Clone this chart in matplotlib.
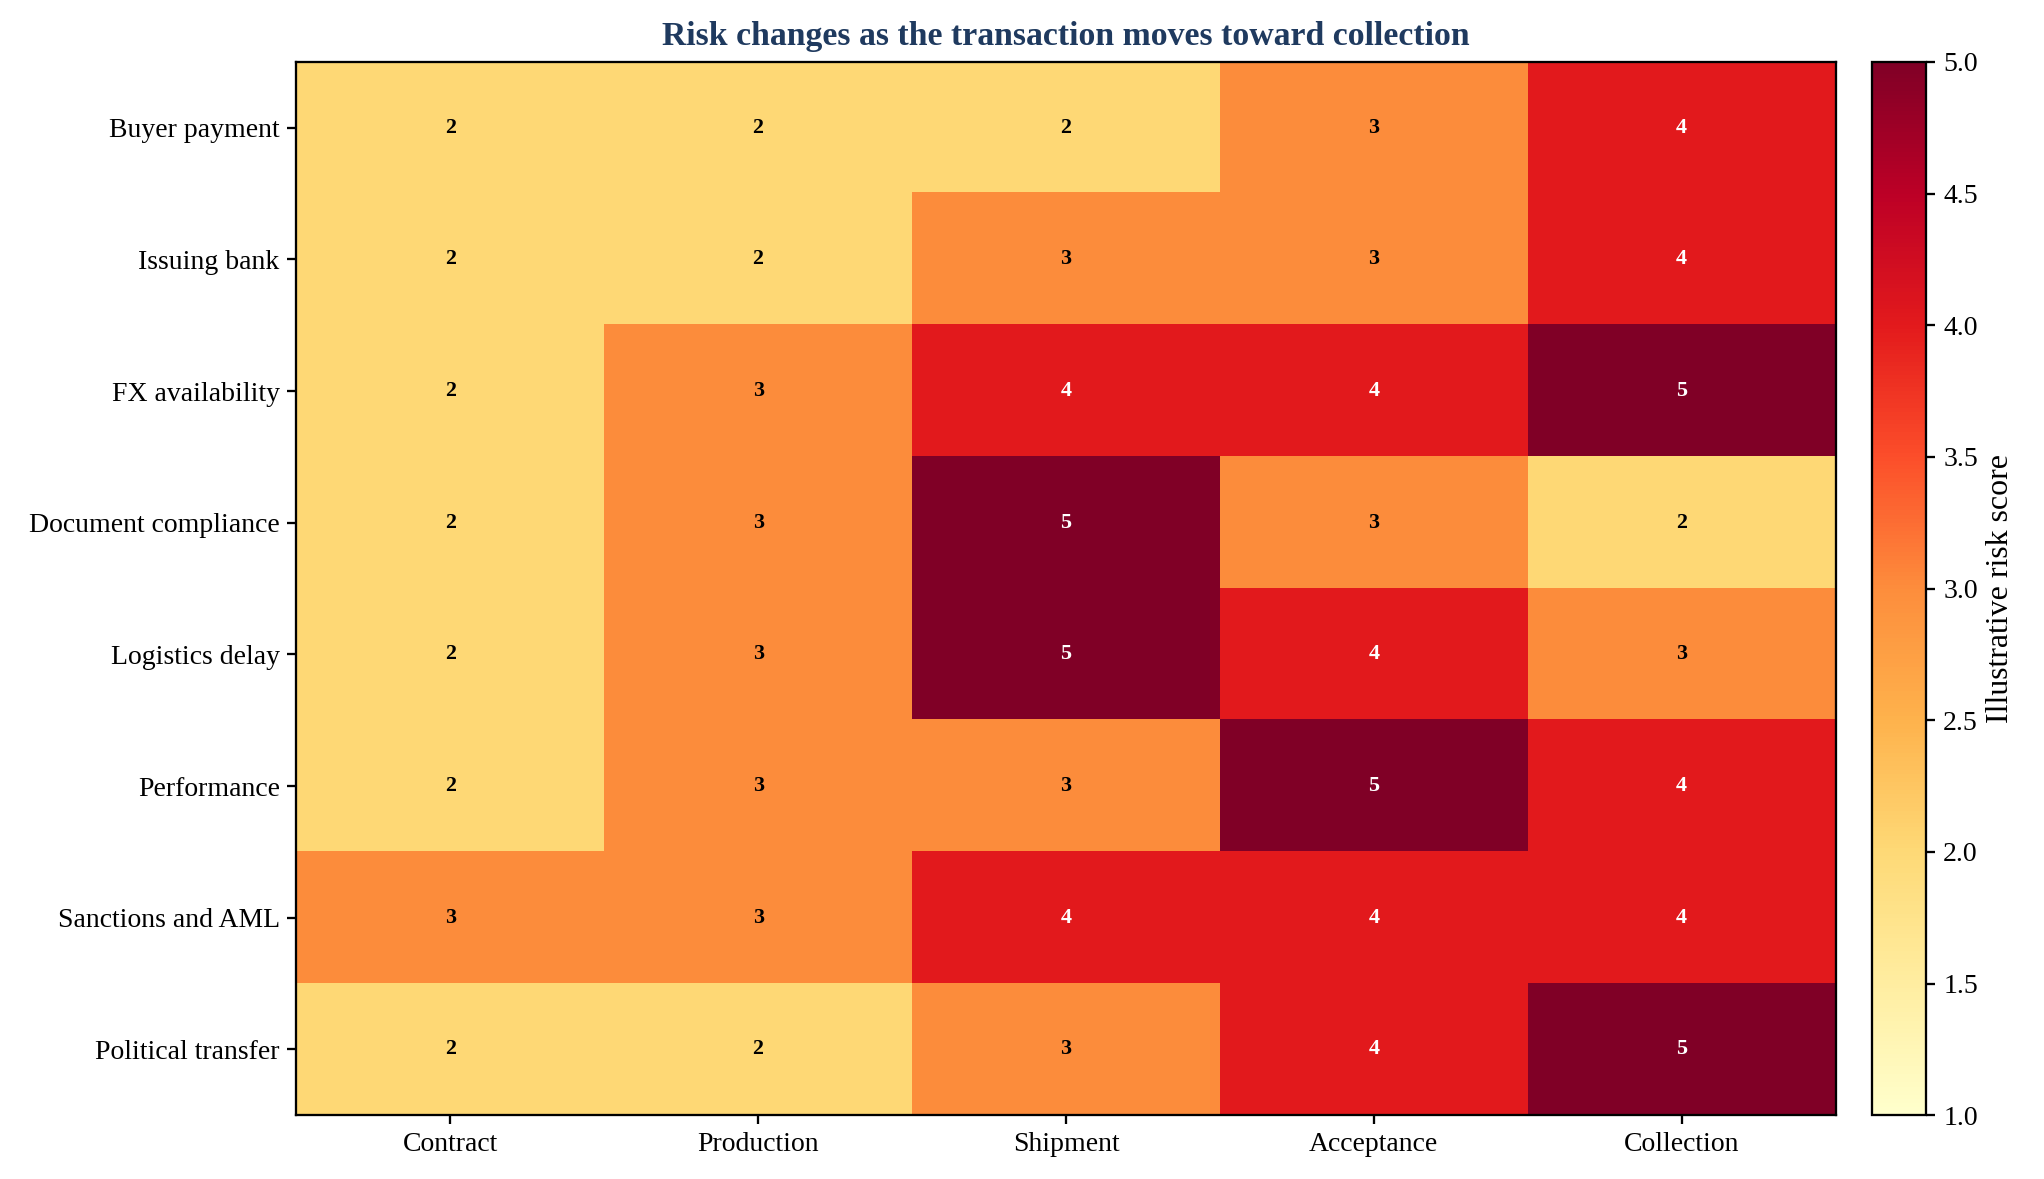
import matplotlib
matplotlib.use("Agg")
import matplotlib.pyplot as plt
import numpy as np

plt.rcParams['font.family'] = ['Liberation Serif', 'DejaVu Serif']

risks = ["Buyer payment", "Issuing bank", "FX availability", "Document compliance",
         "Logistics delay", "Performance", "Sanctions and AML", "Political transfer"]
stages = ["Contract", "Production", "Shipment", "Acceptance", "Collection"]

buyer_payment = [2, 2, 2, 3, 4]
issuing_bank = [2, 2, 3, 3, 4]
fx_availability = [2, 3, 4, 4, 5]
document_compliance = [2, 3, 5, 3, 2]
logistics_delay = [2, 3, 5, 4, 3]
performance = [2, 3, 3, 5, 4]
sanctions_aml = [3, 3, 4, 4, 4]
political_transfer = [2, 2, 3, 4, 5]

scores = np.array([buyer_payment, issuing_bank, fx_availability, document_compliance,
                   logistics_delay, performance, sanctions_aml, political_transfer])

fig = plt.figure(figsize=(2044/150, 1179/150), dpi=150)
ax = fig.add_axes([0.145, 0.054, 0.753, 0.8935])
cax = fig.add_axes([0.916, 0.054, 0.0265, 0.8935])

im = ax.imshow(scores, cmap="YlOrRd", vmin=1, vmax=5, aspect="auto")
ax.set_xticks(range(len(stages)))
ax.set_xticklabels(stages, fontsize=13.3)
ax.set_yticks(range(len(risks)))
ax.set_yticklabels(risks, fontsize=13.3)
ax.tick_params(length=4.5, width=1.1)
for s in ax.spines.values():
    s.set_linewidth(1.1)

for i in range(scores.shape[0]):
    for j in range(scores.shape[1]):
        v = scores[i, j]
        ax.text(j, i, str(v), ha="center", va="center", fontsize=10.6, fontweight="bold",
                color="white" if v >= 4 else "black")

ax.set_title("Risk changes as the transaction moves toward collection",
             fontsize=16.2, fontweight="bold", color="#1f3a5f", pad=8)

cb = fig.colorbar(im, cax=cax)
cb.set_label("Illustrative risk score", fontsize=15.3)
cb.ax.tick_params(labelsize=13.3, length=4.5, width=1.1)
cb.outline.set_linewidth(1.1)

fig.savefig("out.png", dpi=150)
